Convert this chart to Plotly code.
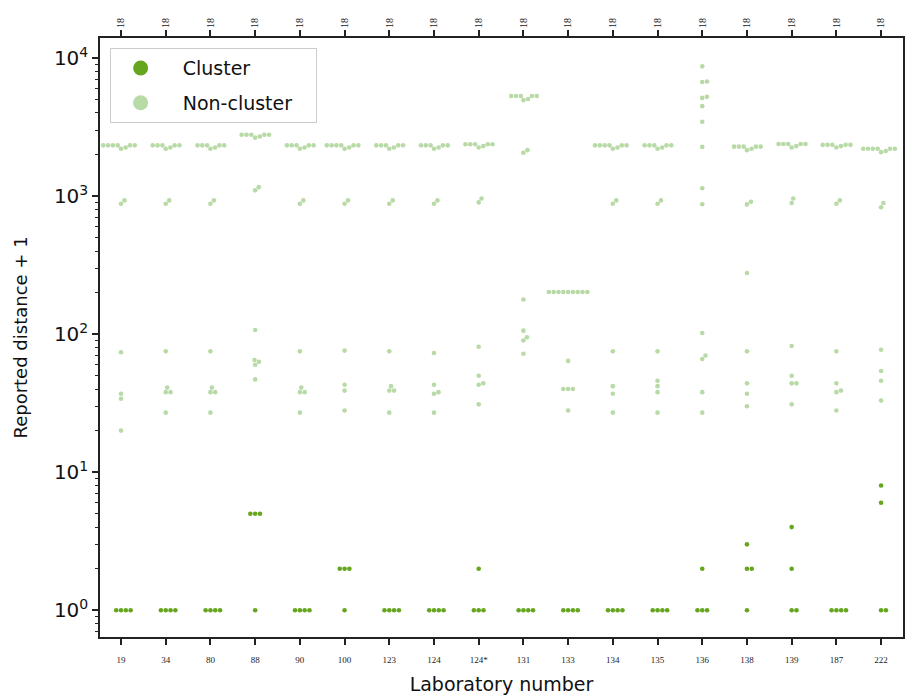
import numpy as np
import plotly.graph_objects as go

LABS = ["19", "34", "80", "88", "90", "100", "123", "124", "124*", "131",
        "133", "134", "135", "136", "138", "139", "187", "222"]
TOP_COUNTS = ["18"] * 18

CLUSTER = [
    [1, 1, 1, 1],          # 19
    [1, 1, 1, 1],          # 34
    [1, 1, 1, 1],          # 80
    [5, 5, 5, 1],          # 88
    [1, 1, 1, 1],          # 90
    [2, 2, 2, 1],          # 100
    [1, 1, 1, 1],          # 123
    [1, 1, 1, 1],          # 124
    [2, 1, 1, 1],          # 124*
    [1, 1, 1, 1],          # 131
    [1, 1, 1, 1],          # 133
    [1, 1, 1, 1],          # 134
    [1, 1, 1, 1],          # 135
    [2, 1, 1, 1],          # 136
    [3, 2, 2, 1],          # 138
    [4, 2, 1, 1],          # 139
    [1, 1, 1, 1],          # 187
    [8, 6, 1, 1],          # 222
]

NONCLUSTER = [
    [2200, 2250, 2330, 2330, 2330, 2330, 2330, 2330, 930, 880, 74, 37, 34, 20],          # 19
    [2200, 2250, 2330, 2330, 2330, 2330, 2330, 930, 880, 75, 41, 38, 38, 27],            # 34
    [2200, 2250, 2330, 2330, 2330, 2330, 2330, 930, 880, 75, 41, 38, 38, 27],            # 80
    [2650, 2700, 2780, 2780, 2780, 2780, 2780, 1160, 1100, 107, 65, 63, 60, 47],         # 88
    [2200, 2250, 2330, 2330, 2330, 2330, 2330, 930, 880, 75, 41, 38, 38, 27],            # 90
    [2200, 2250, 2330, 2330, 2330, 2330, 2330, 2330, 930, 880, 76, 43, 39, 28],          # 100
    [2200, 2250, 2330, 2330, 2330, 2330, 2330, 930, 880, 75, 42, 39, 39, 27],            # 123
    [2200, 2250, 2330, 2330, 2330, 2330, 2330, 930, 880, 73, 43, 38, 37, 27],            # 124
    [2250, 2300, 2370, 2370, 2370, 2370, 2370, 960, 900, 81, 50, 44, 43, 31],            # 124*
    [4950, 5050, 5300, 5300, 5300, 5300, 5300, 2150, 2060, 178, 106, 95, 90, 72],        # 131
    [202, 202, 202, 202, 202, 202, 202, 202, 202, 64, 40, 40, 40, 28],                   # 133
    [2200, 2250, 2330, 2330, 2330, 2330, 2330, 2330, 930, 880, 75, 42, 37, 27],          # 134
    [2200, 2250, 2330, 2330, 2330, 2330, 2330, 930, 880, 75, 46, 42, 38, 27],            # 135
    [8700, 6760, 6700, 5230, 5140, 4480, 3450, 2270, 1140, 873, 102, 70, 66, 38, 27],    # 136
    [2150, 2200, 2280, 2280, 2280, 2280, 2280, 910, 870, 277, 75, 44, 37, 30],           # 138
    [2250, 2300, 2380, 2380, 2380, 2380, 2380, 960, 890, 82, 50, 44, 44, 31],            # 139
    [2250, 2300, 2350, 2350, 2350, 2350, 2350, 930, 880, 75, 44, 39, 38, 28],            # 187
    [2080, 2120, 2200, 2200, 2200, 2200, 2200, 2200, 890, 830, 77, 54, 46, 33],          # 222
]

CLUSTER_COLOR = "#66a61e"
NONCLUSTER_COLOR = "#b8daa6"

# pixel geometry used only for the beeswarm layout
PX_PER_CAT = 44.6
PX_PER_DEC = 138.5
DIAM = 4.8


def swarm_offsets(vals):
    ys = np.log10(np.asarray(vals, dtype=float)) * PX_PER_DEC
    order = np.argsort(ys, kind="stable")
    xs = np.zeros(len(ys))
    placed = []
    for i in order:
        y = ys[i]
        cands = [0.0]
        for px, py in placed:
            dy = y - py
            if abs(dy) < DIAM:
                dx = np.sqrt(DIAM ** 2 - dy ** 2)
                cands += [px + dx, px - dx]
        cands.sort(key=abs)
        for c in cands:
            if all((c - px) ** 2 + (y - py) ** 2 >= DIAM ** 2 - 1e-6 for px, py in placed):
                xs[i] = c
                break
        placed.append((xs[i], y))
    return xs / PX_PER_CAT


cx, cy, nx, ny = [], [], [], []
for k, lab in enumerate(LABS):
    c = CLUSTER[k]
    n = NONCLUSTER[k]
    allv = list(c) + list(n)
    off = swarm_offsets(allv)
    for j, v in enumerate(allv):
        if j < len(c):
            cx.append(k + off[j]); cy.append(v)
        else:
            nx.append(k + off[j]); ny.append(v)

fig = go.Figure()
fig.add_trace(go.Scatter(x=cx, y=cy, mode="markers", name="Cluster",
                         marker=dict(color=CLUSTER_COLOR, size=4.6, line=dict(width=0)),
                         showlegend=False, hoverinfo="x+y"))
fig.add_trace(go.Scatter(x=nx, y=ny, mode="markers", name="Non-cluster",
                         marker=dict(color=NONCLUSTER_COLOR, size=4.6, line=dict(width=0)),
                         showlegend=False, hoverinfo="x+y"))
# legend entries with larger symbols
NB = "\u00a0"
fig.add_trace(go.Scatter(x=[None], y=[None], mode="markers", name=NB * 2 + "Cluster",
                         marker=dict(color=CLUSTER_COLOR, size=15), legendgroup="a"))
fig.add_trace(go.Scatter(x=[None], y=[None], mode="markers", name=NB * 2 + "Non-cluster" + NB * 3,
                         marker=dict(color=NONCLUSTER_COLOR, size=15), legendgroup="b"))
# invisible trace to carry the top axis
fig.add_trace(go.Scatter(x=[0, len(LABS) - 1], y=[1, 1], xaxis="x2", mode="markers",
                         marker=dict(opacity=0), showlegend=False, hoverinfo="skip"))

xr = [-0.47, len(LABS) - 1 + 0.49]
minor_vals = [m * 10 ** e for e in range(-1, 5) for m in range(2, 10)]

fig.update_layout(
    width=906, height=695,
    margin=dict(l=100, r=3, t=38, b=58),
    paper_bgcolor="white", plot_bgcolor="white",
    font=dict(family="DejaVu Sans", color="#111"),
    showlegend=True,
    legend=dict(x=0.012, y=0.983, xanchor="left", yanchor="top",
                bgcolor="white", bordercolor="#cccccc", borderwidth=1,
                font=dict(size=19, family="DejaVu Sans"),
                itemsizing="trace", itemwidth=50, tracegroupgap=7, traceorder="grouped"),
    xaxis=dict(range=xr, tickmode="array", tickvals=list(range(len(LABS))), ticktext=LABS,
               ticks="outside", ticklen=6, tickwidth=1.5, tickcolor="#222",
               ticklabelstandoff=7,
               showline=True, linecolor="#222", linewidth=1.5, mirror=True,
               showgrid=False, zeroline=False, automargin=False,
               tickfont=dict(size=9, family="Liberation Serif", color="#222"),
               title=dict(text="Laboratory number", font=dict(size=19, family="DejaVu Sans"),
                          standoff=14)),
    xaxis2=dict(range=xr, overlaying="x", side="top", anchor="y", tickmode="array",
                tickvals=list(range(len(LABS))), ticktext=TOP_COUNTS, tickangle=-90,
                ticks="outside", ticklen=7, tickwidth=1.5, tickcolor="#222",
                showline=False, showgrid=False, zeroline=False, automargin=False,
                tickfont=dict(size=10, family="Liberation Serif", color="#222")),
    yaxis=dict(type="log", range=[np.log10(0.64), np.log10(13960)],
               tickmode="array", tickvals=[1, 10, 100, 1000, 10000],
               ticktext=["10<sup>0</sup>", "10<sup>1</sup>", "10<sup>2</sup>",
                         "10<sup>3</sup>", "10<sup>4</sup>"],
               ticks="outside", ticklen=6, tickwidth=1.5, tickcolor="#222",
               minor=dict(tickmode="array", tickvals=minor_vals, ticks="outside", ticklen=3.5,
                          tickwidth=1, tickcolor="#222", showgrid=False),
               showline=True, linecolor="#222", linewidth=1.5, mirror=True,
               showgrid=False, zeroline=False, automargin=False,
               tickfont=dict(size=20, family="DejaVu Sans"),
               title=dict(text="Reported distance + 1", font=dict(size=18, family="DejaVu Sans"),
                          standoff=22)),
)

fig.write_html("out.html", config={"displayModeBar": False},
               post_script="document.body.style.margin='0';document.body.style.padding='0';")
